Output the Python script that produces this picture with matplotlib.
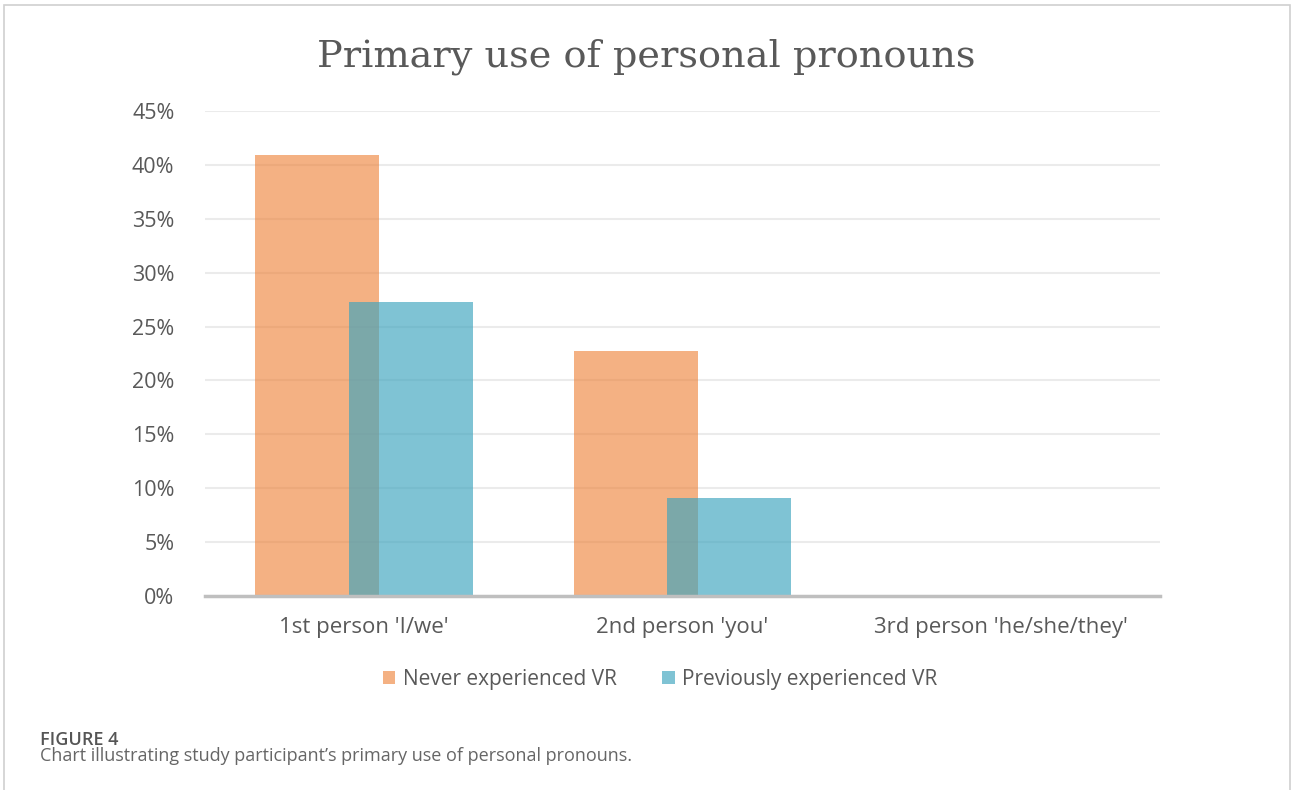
import numpy as np
import matplotlib
matplotlib.use("Agg")
import matplotlib.pyplot as plt
from matplotlib.patches import Rectangle, Patch

categories = ["1st person 'I/we'", "2nd person 'you'", "3rd person 'he/she/they'"]
never_vr = [0.409, 0.227, 0.0]
previous_vr = [0.273, 0.091, 0.0]
series_names = ["Never experienced VR", "Previously experienced VR"]
yticks = np.arange(0, 0.46, 0.05)

W, H = 1293, 790
fig = plt.figure(figsize=(W / 100, H / 100), dpi=100)
plt.rcParams['font.family'] = ['Open Sans', 'DejaVu Sans']

orange = (237/255, 125/255, 49/255)
blue = (61/255, 164/255, 190/255)

# outer frame of the figure panel
fig.patches.append(Rectangle((4 / W, -0.01), 1286 / W, 1 - 5 / H + 0.01,
                             transform=fig.transFigure, fill=False,
                             edgecolor="#d0d0d0", linewidth=1.2))

ax = fig.add_axes([205 / W, (H - 596) / H, 955 / W, 485 / H])

x = np.arange(len(categories))
width = 0.39
offset = 0.147
ax.bar(x - offset, never_vr, width, color=orange, alpha=0.6,
       label=series_names[0], zorder=2)
ax.bar(x + offset, previous_vr, width, color=blue, alpha=0.66,
       label=series_names[1], zorder=3)

ax.set_xlim(-0.5, 2.5)
ax.set_ylim(0, 0.45)
ax.set_yticks(yticks)
ax.set_yticklabels([f"{int(round(t * 100))}%" for t in yticks], fontsize=15.5, color="#595959")
ax.set_xticks(x)
ax.set_xticklabels(categories, fontsize=16, color="#595959")
ax.tick_params(axis="y", length=0, pad=22)
ax.tick_params(axis="x", length=0, pad=15)
ax.grid(axis="y", color="#ebebeb", linewidth=1.5, zorder=0)
ax.set_axisbelow(True)
for s in ["top", "right", "left"]:
    ax.spines[s].set_visible(False)
ax.spines["bottom"].set_color("#bfbfbf")
ax.spines["bottom"].set_linewidth(2.5)
ax.spines["bottom"].set_zorder(4)

fig.text(0.5, 1 - 57 / H, "Primary use of personal pronouns", ha="center", va="center",
         fontsize=27.5, color="#595959", family=["DejaVu Serif"])

handles = [Patch(facecolor=orange, alpha=0.6, label=series_names[0]),
           Patch(facecolor=blue, alpha=0.66, label=series_names[1])]
fig.legend(handles=handles, loc="center", bbox_to_anchor=(660 / W, 1 - 679 / H), ncol=2,
           frameon=False, fontsize=15, labelcolor="#595959", handlelength=0.6,
           handleheight=0.6, handletextpad=0.35, columnspacing=2.2)

fig.text(40 / W, 1 - 740 / H, "FIGURE 4", fontsize=13, color="#555555", va="center",
         fontweight="semibold")
fig.text(40 / W, 1 - 756 / H, "Chart illustrating study participant\u2019s primary use of personal pronouns.",
         fontsize=13, color="#666666", va="center")

fig.savefig("out.png", dpi=100)
